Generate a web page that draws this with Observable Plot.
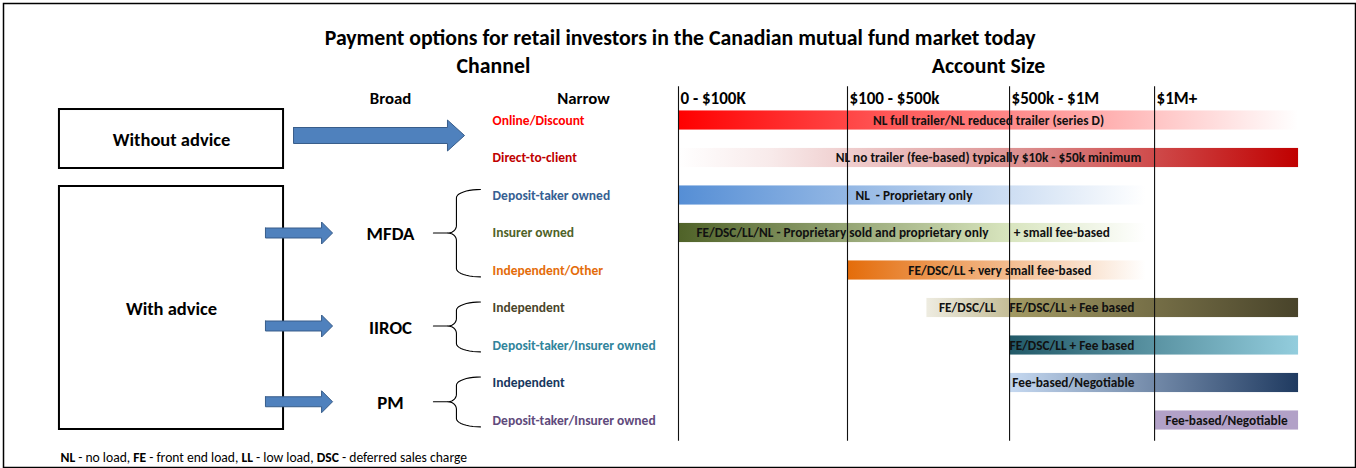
<!DOCTYPE html>
<html>
<head>
<meta charset="utf-8">
<script src="https://cdn.jsdelivr.net/npm/d3@7"></script>
<script src="https://cdn.jsdelivr.net/npm/@observablehq/plot@0.6"></script>
<style>
  html, body { margin: 0; padding: 0; background: #fff; }
  #chart svg { display: block; }
</style>
</head>
<body>
<div id="chart"></div>
<script>
// ---------------- DATA ----------------
const title = "Payment options for retail investors in the Canadian mutual fund market today";
const sectionTitles = ["Channel", "Account Size"];
const columnHeaders = ["Broad", "Narrow"];
const sizeBands = ["0 - $100K", "$100 - $500k", "$500k - $1M", "$1M+"];
const adviceGroups = ["Without advice", "With advice"];
const regulators = ["MFDA", "IIROC", "PM"];
const regulatorRows = [[2, 4], [5, 6], [7, 8]];
const narrowChannels = [
  "Online/Discount", "Direct-to-client", "Deposit-taker owned", "Insurer owned",
  "Independent/Other", "Independent", "Deposit-taker/Insurer owned",
  "Independent", "Deposit-taker/Insurer owned"
];
// bar segments, in account-size bands (0 = $0, 1 = $100k, 2 = $500k, 3 = $1M, 4 = end)
const segRow   = [0, 1, 2, 3, 4, 5, 5, 6, 7, 8];
const segStart = [0, 0, 0, 0, 1, 1.49, 2, 2, 2, 3];
const segEnd   = [4, 4, 2.94, 2.94, 2.94, 2, 4, 4, 4, 4];
// bar texts
const labelRow  = [0, 1, 2, 3, 3, 4, 5, 5, 6, 7, 8];
const labelAt   = [1.87, 1.87, 1.41, 0.97, 2.36, 1.94, 1.74, 2.43, 2.43, 2.44, 3.5];
const labelText = [
  "NL full trailer/NL reduced trailer (series D)",
  "NL no trailer (fee-based) typically $10k - $50k minimum",
  "NL  - Proprietary only",
  "FE/DSC/LL/NL - Proprietary sold and proprietary only",
  "+ small fee-based",
  "FE/DSC/LL + very small fee-based",
  "FE/DSC/LL",
  "FE/DSC/LL + Fee based",
  "FE/DSC/LL + Fee based",
  "Fee-based/Negotiable",
  "Fee-based/Negotiable"
];
const footnoteParts = [
  ["NL", " - no load, "], ["FE", " - front end load, "],
  ["LL", " - low load, "], ["DSC", " - deferred sales charge"]
];
// drawn width of each account-size band, relative to the first
const bandWidths = [1, 0.959, 0.858, 0.852];

// ---------------- STYLE ----------------
const FONT = "Carlito, Lato, sans-serif";
const narrowColors = ["#ff0000", "#c00000", "#366092", "#4f6228", "#e46c0a",
                      "#4a452a", "#31849b", "#17375e", "#604a7b"];
const segGradients = [
  [[0, "#ff0000"], [1, "#ffffff"]],
  [[0, "#ffffff"], [0.15, "#f8eaea"], [0.55, "#dc9090"], [1, "#c00000"]],
  [[0, "#558ed5"], [1, "#ffffff"]],
  [[0, "#4f6228"], [0.7, "#d7e4bd"], [1, "#ffffff"]],
  [[0, "#e46c0a"], [1, "#ffffff"]],
  [[0, "#eeece1"], [1, "#c4bd97"]],
  [[0, "#a39a63"], [1, "#48432a"]],
  [[0, "#215968"], [1, "#93cddd"]],
  [[0, "#c6d9f1"], [1, "#1f3a60"]],
  [[0, "#b2a1c7"], [1, "#b2a1c7"]]
];

// ---------------- LAYOUT (x in band units, y in row units) ----------------
const L = {
  titleY: -2.21, sectionY: -1.44, headerY: -0.587,
  channelX: -1.095, accountX: 1.87, titleX: 0.01,
  broadX: -1.704, narrowHeadX: -0.562, narrowX: -1.10,
  boxX1: -3.663, boxX2: -2.337,
  boxes: [[-0.293, 1.28], [1.76, 8.24]], boxTextY: [0.51, 5.04],
  bigArrow: {x0: -2.278, xh: -1.367, x1: -1.266, y: 0.4, sh: 0.213, hh: 0.413},
  smallArrow: {x0: -2.444, xh: -2.112, x1: -2.047, sh: 0.133, hh: 0.293},
  regY: [3.03, 5.52, 7.52], arrowY: [3.0, 5.48, 7.5],
  braceCusp: -1.45, braceSpine: -1.314, braceEnd: -1.172,
  ruleTop: -0.9, ruleBottom: 8.55, footY: 8.99, footX: -3.657, barHalf: 0.255
};

// ---------------- BUILD ----------------
const edges = [0, ...d3.cumsum(bandWidths)];
const bandScale = d3.scaleLinear().domain(edges.map((_, i) => i)).range(edges); // extrapolates with the first band's width

const segs = segRow.map((r, i) => ({row: r, start: segStart[i], end: segEnd[i], i}));
const labels = labelText.map((t, i) => ({text: t, row: labelRow[i], at: labelAt[i]}));
const narrow = narrowChannels.map((n, i) => ({name: n, row: i, color: narrowColors[i]}));
const bands = sizeBands.map((b, i) => ({label: b, at: i}));

function arrow(id, a, y) {
  return [[a.x0, y - a.sh], [a.xh, y - a.sh], [a.xh, y - a.hh], [a.x1, y],
          [a.xh, y + a.hh], [a.xh, y + a.sh], [a.x0, y + a.sh], [a.x0, y - a.sh]]
    .map(([x, yy]) => ({id, x, y: yy}));
}
const arrows = [
  ...arrow("a0", L.bigArrow, L.bigArrow.y),
  ...L.arrowY.map((y, k) => arrow("a" + (k + 1), L.smallArrow, y)).flat()
];

function brace(id, first, last, mid) {
  const yt = first - 0.16, yb = last + 0.17;
  const xs = L.braceSpine, xe = L.braceEnd;
  const rx = xe - xs, ry = 0.22, rx2 = 0.05, ry2 = 0.2;
  const pts = [];
  const N = 10;
  for (let k = 0; k <= N; k++) { const t = k / N * Math.PI / 2; pts.push([xe - rx * Math.sin(t), yt + ry - ry * Math.cos(t)]); }
  for (let k = 0; k <= N; k++) { const t = k / N * Math.PI / 2; pts.push([xs - rx2 + rx2 * Math.cos(t), mid - ry2 + ry2 * Math.sin(t)]); }
  for (let k = N; k >= 0; k--) { const t = k / N * Math.PI / 2; pts.push([xs - rx2 + rx2 * Math.cos(t), mid + ry2 - ry2 * Math.sin(t)]); }
  for (let k = N; k >= 0; k--) { const t = k / N * Math.PI / 2; pts.push([xe - rx * Math.sin(t), yb - ry + ry * Math.cos(t)]); }
  const line = [[L.braceCusp, mid], [xs - rx2, mid]];
  return [...pts.map(([x, y]) => ({id, x, y})), ...line.map(([x, y]) => ({id: id + "c", x, y}))];
}
const braces = regulatorRows.map(([a, b], k) => brace("b" + k, a, b, L.arrowY[k])).flat();

const bold = {fontWeight: "bold", fontFamily: FONT};

const chart = Plot.plot({
  width: 1356, height: 468, margin: 0,
  x: {type: "linear", transform: bandScale, domain: [-678 / 169, 678 / 169], range: [0, 1356], axis: null},
  y: {domain: [0, 8], range: [120, 420], axis: null},
  color: {type: "identity"},
  style: {fontFamily: FONT, background: "#fff", overflow: "visible"},
  marks: [
    Plot.frame({stroke: "#000", strokeWidth: 1.5, insetLeft: 3, insetTop: 3, insetRight: 1, insetBottom: 1}),
    // titles
    Plot.text([title], {x: L.titleX, y: L.titleY, text: d => d, fontSize: 21.8, ...bold, fill: "#000"}),
    Plot.text(sectionTitles, {x: (d, i) => i === 0 ? L.channelX : L.accountX, y: L.sectionY, text: d => d, fontSize: 21.8, ...bold, fill: "#000"}),
    Plot.text(columnHeaders, {x: (d, i) => i === 0 ? L.broadX : L.narrowHeadX, y: L.headerY, text: d => d, fontSize: 16.8, ...bold, fill: "#000"}),
    Plot.text(bands, {x: "at", y: L.headerY, text: "label", textAnchor: "start", dx: 2, fontSize: 17, ...bold, fill: "#000"}),
    // bars
    Plot.rect(segs, {x1: "start", x2: "end", y1: d => d.row - L.barHalf, y2: d => d.row + L.barHalf, fill: d => `url(#seg${d.i})`}),
    Plot.text(labels, {x: "at", y: "row", text: "text", fontSize: 13.3, ...bold, fill: "#111"}),
    Plot.ruleX(bands, {x: "at", y1: L.ruleTop, y2: L.ruleBottom, stroke: "#111", strokeWidth: 1.1}),
    // left diagram
    Plot.rect(L.boxes, {x1: L.boxX1, x2: L.boxX2, y1: d => d[0], y2: d => d[1], fill: "none", stroke: "#000", strokeWidth: 2}),
    Plot.text(adviceGroups, {x: (L.boxX1 + L.boxX2) / 2, y: (d, i) => L.boxTextY[i], text: d => d, fontSize: 18.5, ...bold, fill: "#000"}),
    Plot.line(arrows, {x: "x", y: "y", z: "id", fill: "#4f81bd", stroke: "#385d8a", strokeWidth: 1, curve: "linear"}),
    Plot.text(regulators, {x: L.broadX, y: (d, i) => L.regY[i], text: d => d, fontSize: 18.8, ...bold, fill: "#000"}),
    Plot.line(braces, {x: "x", y: "y", z: "id", stroke: "#000", strokeWidth: 1.1, curve: "linear"}),
    Plot.text(narrow, {x: L.narrowX, y: "row", text: "name", fill: "color", textAnchor: "start", fontSize: 13.5, ...bold}),
    // footnote
    Plot.text([footnoteParts.map(p => p.join("")).join("")], {x: L.footX, y: L.footY, text: d => d, textAnchor: "start", fontSize: 13.6, fontFamily: FONT, fill: "#000"})
  ]
});

// gradients for the bars
const defs = d3.create("svg:defs");
segGradients.forEach((stops, i) => {
  const g = defs.append("linearGradient").attr("id", "seg" + i).attr("x1", 0).attr("x2", 1).attr("y1", 0).attr("y2", 0);
  stops.forEach(([o, c]) => g.append("stop").attr("offset", o).attr("stop-color", c));
});
chart.insertBefore(defs.node(), chart.firstChild);

// footnote: bold abbreviations
const full = footnoteParts.map(p => p.join("")).join("");
chart.querySelectorAll("text").forEach(t => {
  if (t.textContent === full) {
    t.textContent = "";
    footnoteParts.forEach(([abbr, rest]) => {
      const b = document.createElementNS("http://www.w3.org/2000/svg", "tspan");
      b.setAttribute("font-weight", "bold"); b.textContent = abbr; t.appendChild(b);
      const r = document.createElementNS("http://www.w3.org/2000/svg", "tspan");
      r.textContent = rest; t.appendChild(r);
    });
  }
});

document.getElementById("chart").appendChild(chart);
</script>
</body>
</html>
